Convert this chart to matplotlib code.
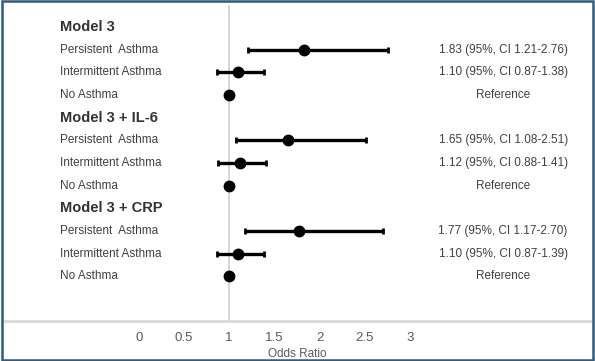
import matplotlib
matplotlib.use("Agg")
import matplotlib.pyplot as plt
import numpy as np

plt.rcParams['font.family'] = ['Liberation Sans', 'DejaVu Sans']

groups = ["Model 3", "Model 3 + IL-6", "Model 3 + CRP"]
categories = ["Persistent  Asthma", "Intermittent Asthma", "No Asthma"]
odds = [[1.83, 1.10, 1.00], [1.65, 1.12, 1.00], [1.77, 1.10, 1.00]]
ci_low = [[1.21, 0.87, None], [1.08, 0.88, None], [1.17, 0.87, None]]
ci_high = [[2.76, 1.38, None], [2.51, 1.41, None], [2.70, 1.39, None]]
ci_text = [["1.83 (95%, CI 1.21-2.76)", "1.10 (95%, CI 0.87-1.38)", "Reference"],
           ["1.65 (95%, CI 1.08-2.51)", "1.12 (95%, CI 0.88-1.41)", "Reference"],
           ["1.77 (95%, CI 1.17-2.70)", "1.10 (95%, CI 0.87-1.39)", "Reference"]]
xticks = [0, 0.5, 1, 1.5, 2, 2.5, 3]
xticklabels = ["0", "0.5", "1", "1.5", "2", "2.5", "3"]

fig = plt.figure(figsize=(5.95, 3.61), dpi=100)
ax = fig.add_axes([4/595, 1 - 321/361, 586/595, 316/361])
ax.set_xlim(-1.49, 4.99)
ax.set_ylim(12.97, -0.97)

ax.axvline(1, color="#d0d0d0", lw=1.2, zorder=1)

row = 0
text_col = "#404040"
for g in range(len(groups)):
    ax.text(-0.87, row, groups[g], fontsize=10.5, fontweight="bold", color="#333333",
            va="center", ha="left")
    row += 1
    for c in range(len(categories)):
        ax.text(-0.87, row, categories[c], fontsize=8.5, color=text_col, va="center", ha="left")
        if ci_low[g][c] is not None:
            lo, hi = ci_low[g][c], ci_high[g][c]
            ax.errorbar(odds[g][c], row, xerr=[[odds[g][c] - lo], [hi - odds[g][c]]],
                        fmt="o", color="black", ms=7.5, elinewidth=2.4, capsize=2.5,
                        capthick=2, zorder=3)
        else:
            ax.plot(odds[g][c], row, "o", color="black", ms=7.5, zorder=3)
        ax.text(4.03, row, ci_text[g][c], fontsize=8.5, color=text_col, va="center", ha="center")
        row += 1

for s in ["top", "left", "right"]:
    ax.spines[s].set_visible(False)
ax.spines["bottom"].set_color("#d9d9d9")
ax.spines["bottom"].set_linewidth(2)
ax.set_yticks([])
ax.set_xticks(xticks)
ax.set_xticklabels(xticklabels, fontsize=9.5, color="#595959")
ax.tick_params(axis="x", length=0, pad=8)
ax.set_xlabel("Odds Ratio", fontsize=8.5, color="#595959", labelpad=3)

border = plt.Rectangle((0.004, 0.004), 0.992, 0.992, transform=fig.transFigure,
                       fill=False, edgecolor="#2F5B7C", lw=1.8)
fig.patches.append(border)

fig.savefig("out.png", dpi=100, facecolor="white")
